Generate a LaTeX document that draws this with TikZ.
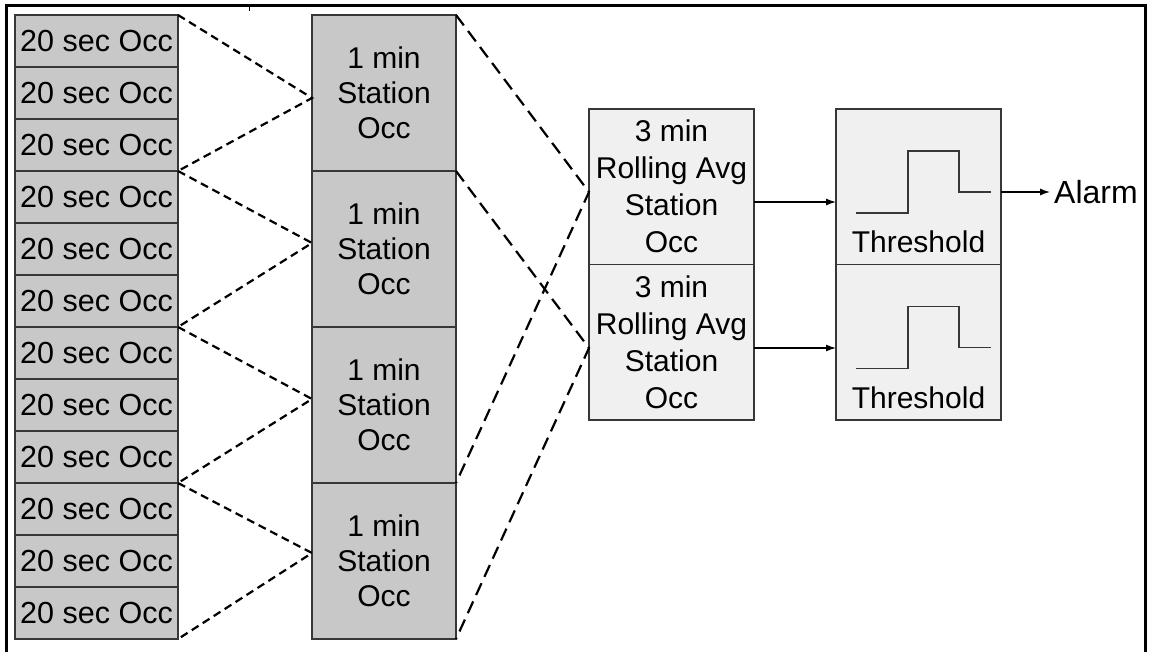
\documentclass[tikz,border=0pt]{standalone}
\usepackage{fontspec}
\setmainfont{Liberation Sans}
\usetikzlibrary{arrows.meta,calc}
\definecolor{darkfill}{RGB}{200,200,200}
\definecolor{lightfill}{RGB}{240,240,240}
\definecolor{boxline}{RGB}{55,55,55}
\begin{document}
\begin{tikzpicture}[x=1pt,y=-1pt,
  box/.style={draw=boxline, line width=1.4pt, inner sep=0pt, outer sep=0pt, align=center, text=black},
  secbox/.style={box, fill=darkfill, minimum width=163pt, minimum height=52pt, font=\fontsize{30.5}{34}\selectfont},
  minbox/.style={box, fill=darkfill, minimum width=144pt, minimum height=156pt, font=\fontsize{30}{35}\selectfont},
  avgbox/.style={box, fill=lightfill, minimum width=165pt, minimum height=155.5pt, font=\fontsize{30}{37}\selectfont},
  thrbox/.style={avgbox},
  lbl/.style={font=\fontsize{30}{34}\selectfont, inner sep=0pt, text=black},
  fanshort/.style={black, line width=2.2pt, dash pattern=on 8pt off 5pt},
  fanlong/.style={black, line width=2.2pt, dash pattern=on 13pt off 7pt},
  arr/.style={black, line width=1.3pt, -{Latex[length=10pt,width=7pt]}},
  wave/.style={boxline, line width=1.6pt},
]
\useasboundingbox (0,0) rectangle (1151,651);
\fill[white] (0,0) rectangle (1151,651);

% 20 sec boxes
\foreach \i in {1,...,12}
  \node[secbox] (s\i) at (96.5, {41+52*(\i-1)}) {20 sec Occ};

% 1 min boxes
\foreach \j in {1,...,4}
  \node[minbox] (m\j) at (384, {93+156*(\j-1)}) {1 min\\Station\\Occ};

% rolling average boxes
\node[avgbox] (r1) at (671.5,186.75) {3 min\\Rolling Avg\\Station\\Occ};
\node[avgbox] (r2) at (671.5,342.25) {3 min\\Rolling Avg\\Station\\Occ};

% threshold boxes
\node[thrbox] (t1) at (918.5,186.75) {};
\node[thrbox] (t2) at (918.5,342.25) {};
\node[lbl, anchor=base] (tl1) at ($(t1.center)+(0,65.25)$) {Threshold};
\node[lbl, anchor=base] (tl2) at ($(t2.center)+(0,65.75)$) {Threshold};

\foreach \t in {t1,t2}{
  \begin{scope}[shift={(\t.center)}]
    \draw[wave] (-62.5,26.25) -- (-10.5,26.25) -- (-10.5,-35.75) -- (40.5,-35.75) -- (40.5,5.25) -- (72.5,5.25);
  \end{scope}
}

% alarm
\node[lbl, anchor=west, font=\fontsize{32}{36}\selectfont] (alarm) at (1054,192) {Alarm};

% convergence points
\coordinate (c1) at (312,98);
\coordinate (c2) at (312,243);
\coordinate (c3) at (312,399);
\coordinate (c4) at (312,553);
\coordinate (q1) at (589,192);
\coordinate (q2) at (589,348);

% short dashed fans
\draw[fanshort] (s1.north east) -- (c1) -- (s3.south east);
\draw[fanshort] (s4.north east) -- (c2) -- (s6.south east);
\draw[fanshort] (s7.north east) -- (c3) -- (s9.south east);
\draw[fanshort] (s10.north east) -- (c4) -- (s12.south east);

% long dashed fans
\draw[fanlong] (m1.north east) -- (q1) -- (m3.south east);
\draw[fanlong] (m2.north east) -- (q2) -- (m4.south east);

% arrows
\draw[arr] ([yshift=-15.25pt]r1.east) -- ([yshift=-15.25pt]t1.west);
\draw[arr] ([yshift=-5.75pt]r2.east) -- ([yshift=-5.75pt]t2.west);
\draw[arr] ([yshift=-5.25pt]t1.east) -- ([xshift=-4pt]alarm.west);

% frame
\draw[black, line width=3pt] (6,660) -- (6,5) -- (1145,5) -- (1145,660);
\draw[black, line width=1pt] (249,5) -- (249,11);
\end{tikzpicture}
\end{document}
